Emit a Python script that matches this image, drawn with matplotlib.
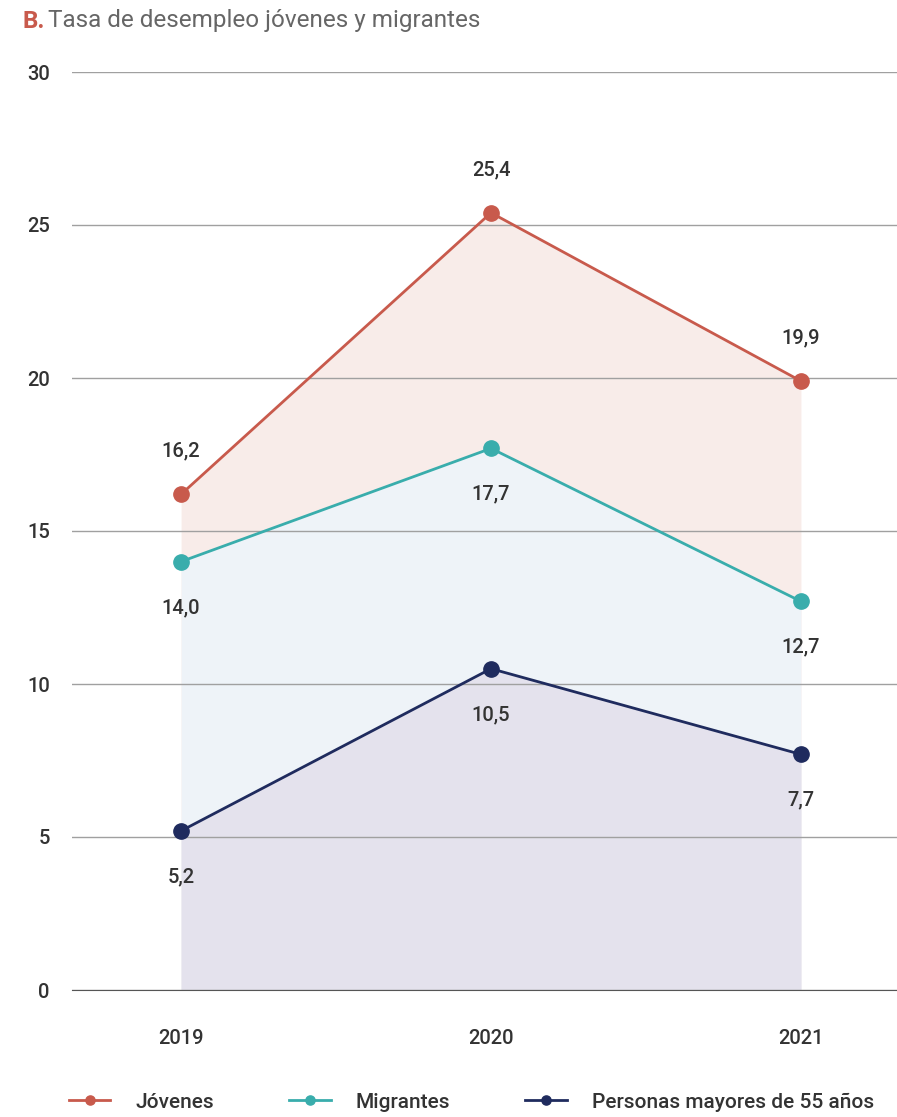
import matplotlib.pyplot as plt
import numpy as np

plt.rcParams['font.family'] = ['Roboto', 'DejaVu Sans']

# Datos
anios = ['2019', '2020', '2021']
jovenes = [16.2, 25.4, 19.9]
migrantes = [14.0, 17.7, 12.7]
mayores55 = [5.2, 10.5, 7.7]
series = ['Jóvenes', 'Migrantes', 'Personas mayores de 55 años']

colores = ['#c85a4c', '#39adac', '#1f2b5e']
rellenos = ['#f8ece9', '#eef3f8', '#e4e2ed']

fig = plt.figure(figsize=(8.97, 11.17), dpi=100)
ax = fig.add_axes([72 / 897, 127 / 1117, 1 - 72 / 897, (990 - 72) / 1117])

x = np.arange(len(anios))
datos = [jovenes, migrantes, mayores55]
# etiqueta arriba para jóvenes, abajo para los demás
desplaz = [31, -33, -33]

for i, (y, c, f, nombre) in enumerate(zip(datos, colores, rellenos, series)):
    ax.fill_between(x, 0, y, color=f, lw=0, zorder=1 + i * 0.1)
    ax.plot(x, y, color=c, lw=2, marker='o', ms=11, zorder=4, label=nombre)
    for xi, yi in zip(x, y):
        ax.annotate(f'{yi:.1f}'.replace('.', ','), (xi, yi),
                    xytext=(0, desplaz[i]), textcoords='offset points',
                    ha='center', va='center', fontsize=14.5,
                    fontweight='medium', color='#333333')

ax.set_ylim(0, 30)
ax.set_xlim(-0.352, 2.31)
ax.set_yticks(np.arange(0, 31, 5))
ax.set_xticks(x, anios)
ax.yaxis.grid(True, color='#a0a0a0', lw=1, zorder=2)
ax.set_axisbelow(False)
for s in ['left', 'right', 'top']:
    ax.spines[s].set_visible(False)
ax.spines['bottom'].set_color('#555555')
ax.spines['bottom'].set_zorder(3)
ax.tick_params(axis='both', length=0, labelsize=14.5, colors='#333333')
for lbl in ax.get_xticklabels() + ax.get_yticklabels():
    lbl.set_fontweight('medium')
ax.tick_params(axis='x', pad=28)
ax.tick_params(axis='y', pad=16)

fig.text(22 / 897, 1 - 21 / 1117, 'B.', color='#c85a4c', fontsize=17.5,
         fontweight='bold', va='center')
fig.text(48 / 897, 1 - 21 / 1117, 'Tasa de desempleo jóvenes y migrantes',
         color='#666666', fontsize=17.5, va='center')

fig.legend(loc='lower left', bbox_to_anchor=(50 / 897, -0.012), ncol=3,
           frameon=False, handlelength=2.0, columnspacing=3.6,
           handletextpad=1.2, markerscale=0.6, labelcolor='#333333',
           prop={'size': 15, 'weight': 'medium'})

fig.savefig('out.png', dpi=100)
